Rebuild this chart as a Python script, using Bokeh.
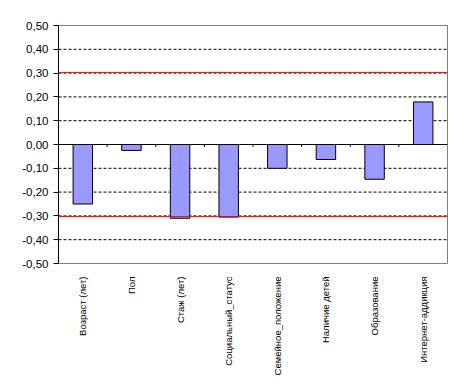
from bokeh.plotting import figure
from bokeh.models import (ColumnDataSource, FactorRange, Range1d, Span, FixedTicker,
                          CustomJSTickFormatter)
from bokeh.transform import dodge
from bokeh.embed import file_html
from bokeh.resources import INLINE
import math

categories = ["Возраст (лет)", "Пол", "Стаж (лет)", "Социальный_статус",
              "Семейное_положение", "Наличие детей", "Образование", "Интернет-аддикция"]
values = [-0.25, -0.025, -0.31, -0.305, -0.10, -0.063, -0.146, 0.179]
y_ticks = [-0.5, -0.4, -0.3, -0.2, -0.1, 0.0, 0.1, 0.2, 0.3, 0.4, 0.5]
grid_levels = [-0.4, -0.3, -0.2, -0.1, 0.1, 0.2, 0.3, 0.4]
threshold_levels = [0.303, -0.303]

p = figure(width=453, height=380, output_backend="svg", toolbar_location=None,
           x_range=FactorRange(factors=categories, range_padding=0),
           y_range=Range1d(-0.5, 0.5),
           min_border_left=58, min_border_right=6, min_border_top=25, min_border_bottom=117)
p.background_fill_color = "white"
p.border_fill_color = "white"
p.outline_line_color = "#808080"
p.outline_line_width = 1
p.xgrid.visible = False
p.ygrid.visible = False

# dashed gridlines (behind bars)
for g in grid_levels:
    p.add_layout(Span(location=g, dimension="width", line_color="black",
                      line_dash="3 2", line_width=1, level="underlay"))

# bars
src = ColumnDataSource(dict(cat=categories, val=values))
p.vbar(x="cat", top="val", bottom=0, width=0.4, source=src,
       fill_color="#9999FF", line_color="black", line_width=1)

# zero axis line
p.add_layout(Span(location=0, dimension="width", line_color="black", line_width=1))

# tick marks on zero line at category boundaries
tsrc = ColumnDataSource(dict(cat=categories[:-1], y0=[0.0] * (len(categories) - 1),
                             y1=[-0.01] * (len(categories) - 1)))
p.segment(x0=dodge("cat", 0.5, range=p.x_range), x1=dodge("cat", 0.5, range=p.x_range),
          y0="y0", y1="y1", source=tsrc, line_color="black", line_width=1)

# red threshold lines (over bars)
for t in threshold_levels:
    p.add_layout(Span(location=t, dimension="width", line_color="#FF0000", line_width=1))

# y axis
p.yaxis.ticker = FixedTicker(ticks=y_ticks)
p.yaxis.formatter = CustomJSTickFormatter(code="return tick.toFixed(2).replace('.', ',');")
p.yaxis.axis_line_color = "black"
p.yaxis.major_tick_line_color = "black"
p.yaxis.major_tick_out = 5
p.yaxis.major_tick_in = 0
p.yaxis.minor_tick_line_color = None
p.yaxis.major_label_text_font = "Liberation Sans"
p.yaxis.major_label_text_font_size = "11.5px"
p.yaxis.major_label_text_color = "black"
p.yaxis.major_label_standoff = 5

# x axis (labels only, at bottom)
p.xaxis.axis_line_color = None
p.xaxis.major_tick_line_color = None
p.xaxis.minor_tick_line_color = None
p.xaxis.major_label_orientation = math.pi / 2
p.xaxis.major_label_text_font = "Liberation Sans"
p.xaxis.major_label_text_font_size = "9.5px"
p.xaxis.major_label_text_color = "black"
p.xaxis.major_label_standoff = 7

open("out.html", "w").write(file_html(p, INLINE))
